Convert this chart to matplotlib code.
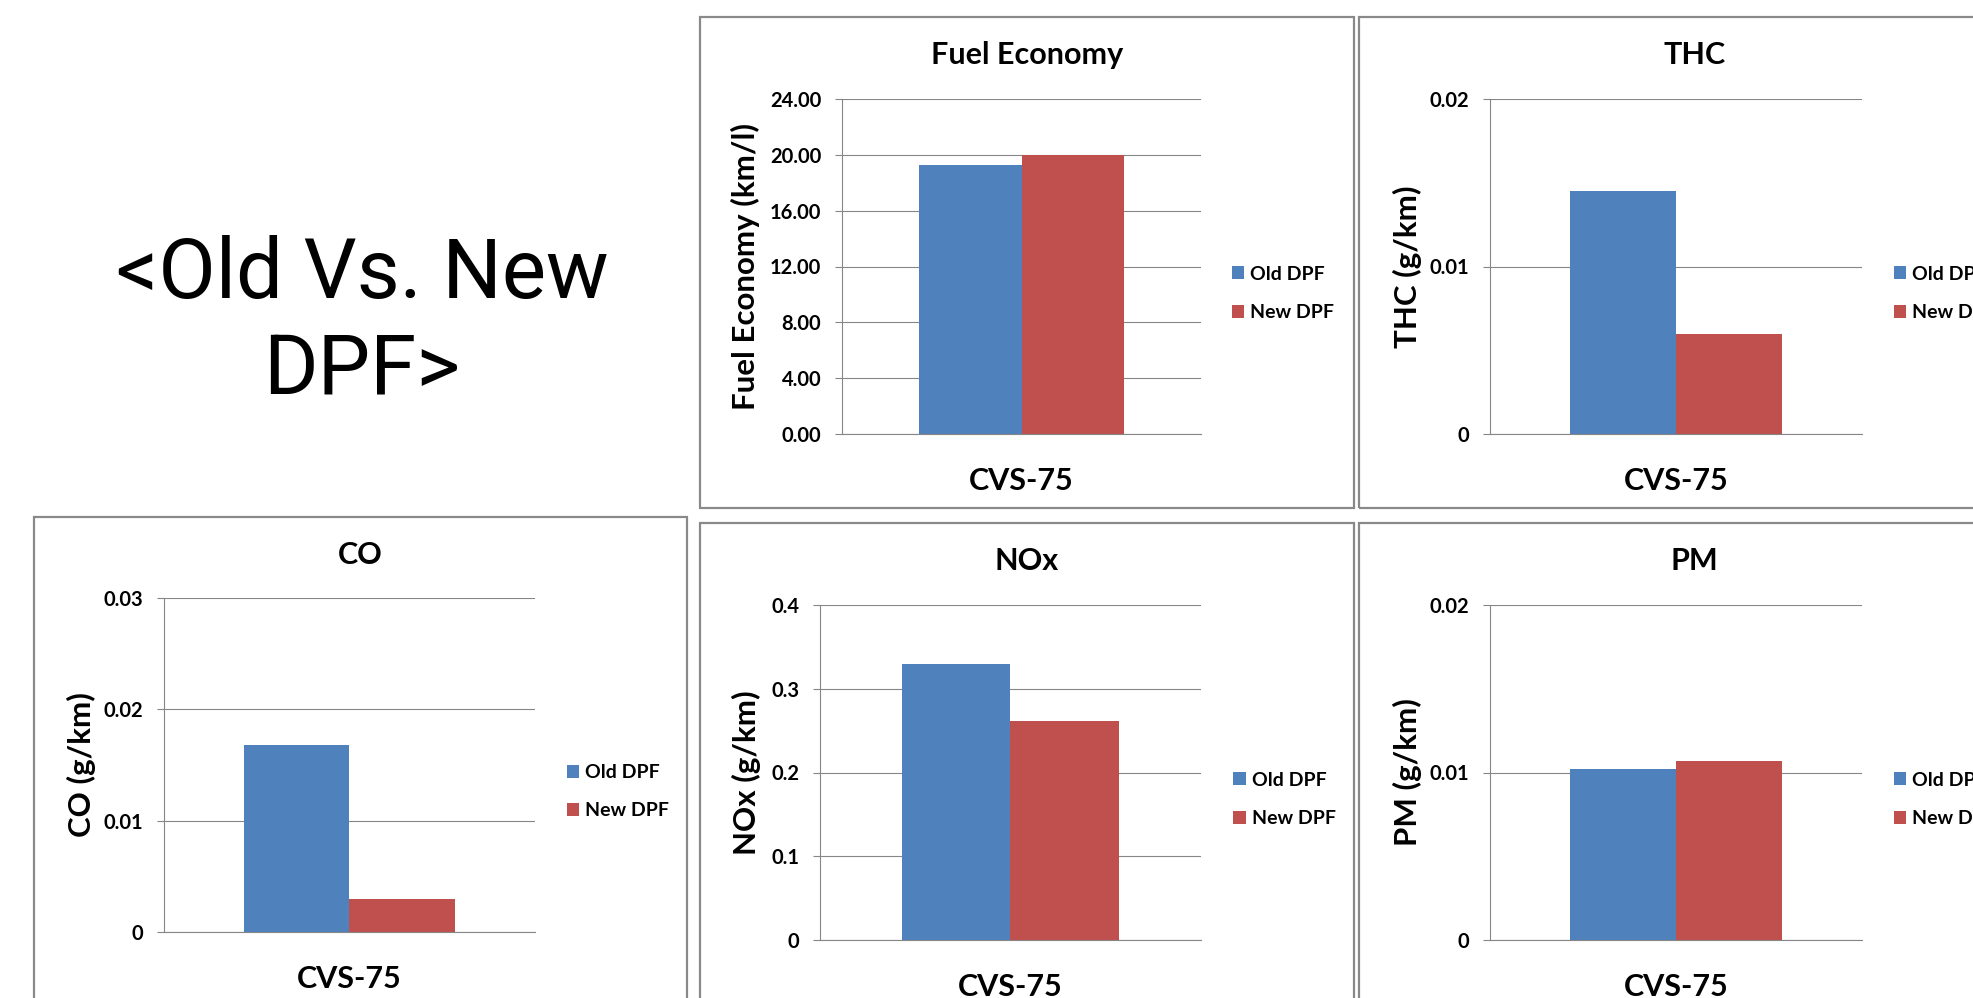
import numpy as np
import matplotlib.pyplot as plt
from matplotlib.patches import Rectangle

W, H, DPI = 1973, 998, 100

categories = ["CVS-75"]
series_names = ["Old DPF", "New DPF"]
series_colors = ["#4F81BD", "#C0504D"]

# Old DPF, New DPF for the CVS-75 cycle
fuel_economy = [19.25, 20.0]
thc = [0.0145, 0.0060]
co = [0.0168, 0.0030]
nox = [0.329, 0.261]
pm = [0.0102, 0.0107]

fuel_ticks = [0, 4, 8, 12, 16, 20, 24]
fuel_ticklabels = [f"{t:.2f}" for t in fuel_ticks]
thc_ticks = [0, 0.01, 0.02]
thc_ticklabels = ["0", "0.01", "0.02"]
co_ticks = [0, 0.01, 0.02, 0.03]
co_ticklabels = ["0", "0.01", "0.02", "0.03"]
nox_ticks = [0, 0.1, 0.2, 0.3, 0.4]
nox_ticklabels = ["0", "0.1", "0.2", "0.3", "0.4"]
pm_ticks = [0, 0.01, 0.02]
pm_ticklabels = ["0", "0.01", "0.02"]

GRAY = "#868686"
BORDER = "#898989"

plt.rcParams["font.family"] = ["Lato", "DejaVu Sans"]
plt.rcParams["font.weight"] = "bold"
plt.rcParams["axes.labelweight"] = "bold"

fig = plt.figure(figsize=(W / DPI, H / DPI), dpi=DPI)


def fx(x):
    return x / W


def fy(y):
    return 1 - y / H


def add_panel(box, plot, title, ylabel, values, ticks, ticklabels, ylabel_dx):
    bx0, by0, bx1, by1 = box
    fig.patches.append(Rectangle((fx(bx0), fy(by1)), (bx1 - bx0) / W, (by1 - by0) / H,
                                 transform=fig.transFigure, fill=False,
                                 edgecolor=BORDER, lw=1.6))
    fig.text(fx((bx0 + bx1) / 2), fy(by0 + 47), title, ha="center",
             va="baseline", fontsize=22, fontweight="bold")

    px0, py0, px1, py1 = plot
    ax = fig.add_axes([fx(px0), fy(py1), (px1 - px0) / W, (py1 - py0) / H])

    x = np.arange(len(categories))
    bw = 1 / 3.5  # 150% gap width
    handles = []
    for i, (name, color) in enumerate(zip(series_names, series_colors)):
        b = ax.bar(x + (i - 0.5) * bw, [values[i]], bw, color=color, label=name)
        handles.append(b)

    ax.set_xlim(-0.5, 0.5)
    ax.set_ylim(0, ticks[-1])
    ax.set_yticks(ticks)
    ax.set_yticklabels(ticklabels, fontsize=14.5, fontweight="bold")
    ax.set_xticks(x)
    ax.set_xticklabels(categories, fontsize=22, fontweight="bold")
    ax.tick_params(axis="x", length=0, pad=24)
    ax.tick_params(axis="y", direction="out", length=5, width=0.8, color=GRAY, pad=10)

    ax.yaxis.grid(True, color=GRAY, lw=0.8)
    ax.set_axisbelow(True)
    for s in ("top", "right"):
        ax.spines[s].set_visible(False)
    for s in ("left", "bottom"):
        ax.spines[s].set_color(GRAY)
        ax.spines[s].set_linewidth(0.8)

    ax.set_ylabel(ylabel, fontsize=22.5, fontweight="bold", va="center")
    ax.yaxis.set_label_coords(-ylabel_dx / (px1 - px0), 0.5)

    ax.legend(handles=handles, loc="center left", bbox_to_anchor=(1.085, 0.42),
              frameon=False, prop={"size": 14, "weight": "bold"},
              handlelength=0.65, handleheight=0.65, handletextpad=0.3,
              labelspacing=1.1, borderpad=0, borderaxespad=0)
    return ax


add_panel((700, 17, 1354, 508), (842, 99, 1201, 434), "Fuel Economy",
          "Fuel Economy (km/l)", fuel_economy, fuel_ticks, fuel_ticklabels, 97)
add_panel((1359, 17, 2030, 508), (1490, 99, 1862, 434), "THC",
          "THC (g/km)", thc, thc_ticks, thc_ticklabels, 83)
add_panel((34, 517, 687, 1010), (164, 598, 535, 932), "CO",
          "CO (g/km)", co, co_ticks, co_ticklabels, 83)
add_panel((700, 523, 1354, 1010), (820, 605, 1201, 940), "NOx",
          "NOx (g/km)", nox, nox_ticks, nox_ticklabels, 74)
add_panel((1359, 523, 2030, 1010), (1490, 605, 1862, 940), "PM",
          "PM (g/km)", pm, pm_ticks, pm_ticklabels, 83)

# slide heading
fig.text(fx(362), fy(298), "<Old Vs. New", ha="center", va="baseline",
         fontsize=60, family="Roboto", fontweight="normal")
fig.text(fx(362), fy(393), "DPF>", ha="center", va="baseline",
         fontsize=60, family="Roboto", fontweight="normal")

fig.savefig("out.png", dpi=DPI)
